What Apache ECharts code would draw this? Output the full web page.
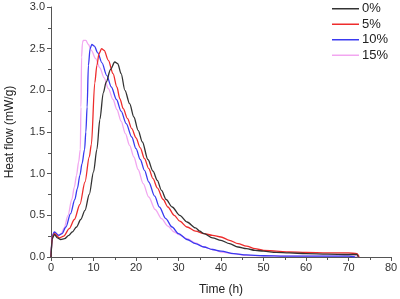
<!DOCTYPE html>
<html>
<head>
<meta charset="utf-8">
<script src="https://cdn.jsdelivr.net/npm/echarts@6/dist/echarts.min.js"></script>
<style>
  html, body { margin: 0; padding: 0; background: #fff; }
  #chart { width: 400px; height: 299px; }
</style>
</head>
<body>
<div id="chart"></div>
<script>
// series names
var names = ['0%', '5%', '10%', '15%'];

// 0%
var t0 = [0, 0.3, 0.8, 1.5, 2.3, 3.2, 4.2, 5, 6, 7, 8, 9, 10, 10.8, 11.5, 12.3, 13, 14, 15, 15.7, 16.5, 17.4, 18.5, 19.5, 20.5, 21.5, 22.8, 24, 25, 26, 27.1, 28.5, 30.3, 32, 34, 35, 36, 38, 40, 42, 44, 46, 48, 50, 53, 56, 60, 65, 70, 72, 72.3];
var v0 = [0, 0.22, 0.27, 0.23, 0.21, 0.22, 0.26, 0.3, 0.36, 0.45, 0.56, 0.75, 1.02, 1.29, 1.65, 1.97, 2.1, 2.25, 2.34, 2.32, 2.2, 2.0, 1.84, 1.68, 1.52, 1.38, 1.17, 1.03, 0.92, 0.8, 0.69, 0.6, 0.5, 0.42, 0.35, 0.31, 0.28, 0.23, 0.2, 0.16, 0.12, 0.1, 0.08, 0.07, 0.055, 0.05, 0.04, 0.035, 0.03, 0.03, 0];

// 5%
var t5 = [0, 0.3, 0.8, 2, 3, 4.3, 5.5, 6.8, 8, 9, 9.5, 10.3, 10.8, 11.3, 11.9, 12.5, 13.5, 14.6, 15.5, 16.2, 17, 18, 19, 20, 21, 22, 23, 24, 25, 26.4, 27.5, 29, 30.3, 32, 34, 36, 38, 40, 42, 44, 46, 48, 50, 53, 56, 60, 65, 70, 72, 72.5];
var v5 = [0, 0.24, 0.28, 0.23, 0.25, 0.34, 0.45, 0.63, 0.9, 1.2, 1.35, 2.09, 2.3, 2.44, 2.5, 2.48, 2.36, 2.2, 2.04, 1.9, 1.78, 1.66, 1.54, 1.43, 1.31, 1.18, 1.06, 0.94, 0.83, 0.69, 0.6, 0.5, 0.43, 0.36, 0.31, 0.28, 0.26, 0.24, 0.2, 0.16, 0.13, 0.1, 0.08, 0.07, 0.06, 0.055, 0.05, 0.05, 0.04, 0];

// 10%
var t10 = [0, 0.3, 0.8, 1.8, 2.6, 3.5, 4.6, 5.6, 6.2, 6.8, 7.3, 7.9, 8.2, 8.5, 8.8, 9.2, 9.6, 10.2, 11, 12, 13.1, 14.2, 15.4, 16.5, 17.7, 19, 20, 21, 22, 23, 24.4, 25.5, 27, 28.5, 30, 32, 34, 36, 38, 40, 43, 46, 50, 55, 60, 65, 70, 71.5];
var v10 = [0, 0.26, 0.3, 0.26, 0.28, 0.36, 0.52, 0.69, 0.82, 0.98, 1.12, 1.29, 1.5, 1.8, 2.3, 2.5, 2.55, 2.53, 2.45, 2.33, 2.18, 2.04, 1.89, 1.75, 1.6, 1.44, 1.3, 1.17, 1.04, 0.9, 0.73, 0.6, 0.46, 0.36, 0.28, 0.21, 0.16, 0.12, 0.09, 0.07, 0.04, 0.025, 0.015, 0.01, 0.01, 0.01, 0.01, 0];

// 15%
var t15 = [0, 0.3, 0.8, 1.7, 2.4, 3.1, 4, 4.9, 5.5, 6, 6.5, 6.9, 7.05, 7.2, 7.4, 7.6, 8.2, 8.8, 9.5, 10.5, 11.5, 12.5, 13.5, 14.6, 15.5, 16.5, 17.5, 18.5, 19.5, 20.5, 21.7, 23, 24.5, 26, 27.5, 29, 30.5, 32, 34, 36, 38, 40, 43, 46, 50, 55, 60, 65, 70, 72, 72.3];
var v15 = [0, 0.25, 0.3, 0.26, 0.28, 0.35, 0.5, 0.69, 0.84, 0.98, 1.14, 1.29, 1.8, 2.4, 2.57, 2.6, 2.6, 2.55, 2.48, 2.38, 2.27, 2.15, 2.02, 1.89, 1.77, 1.63, 1.48, 1.34, 1.2, 1.05, 0.88, 0.72, 0.57, 0.46, 0.37, 0.3, 0.26, 0.22, 0.17, 0.12, 0.09, 0.06, 0.04, 0.02, 0.015, 0.01, 0.01, 0.01, 0.01, 0.01, 0];

var colors = ['#333333', '#ee2c2c', '#3a3af0', '#f2a6f0'];

function zip(ts, vs) {
  var out = [];
  for (var i = 0; i < ts.length; i++) out.push([ts[i], vs[i]]);
  return out;
}
var allT = [t0, t5, t10, t15];
var allV = [v0, v5, v10, v15];

var axisCol = '#555';
var chart = echarts.init(document.getElementById('chart'));
var option = {
  animation: false,
  grid: { left: 51, right: 9, top: 7, bottom: 42, outerBoundsMode: 'none' },
  legend: {
    left: 327,
    top: -3,
    orient: 'vertical',
    icon: 'rect',
    itemWidth: 27,
    itemHeight: 1.5,
    itemGap: 2,
    textStyle: { fontFamily: 'Liberation Sans', fontSize: 13, color: '#222', lineHeight: 13.5, padding: [0, 0, 0, -2] },
    data: names
  },
  xAxis: {
    type: 'value',
    min: 0, max: 80, interval: 10,
    name: 'Time (h)',
    nameLocation: 'middle',
    nameGap: 27,
    nameTextStyle: { fontFamily: 'Liberation Sans', fontSize: 12, color: '#222' },
    splitLine: { show: false },
    axisLine: { lineStyle: { color: axisCol, width: 1 } },
    axisTick: { length: 4, lineStyle: { color: axisCol } },
    minorTick: { show: true, splitNumber: 2, length: 3, lineStyle: { color: axisCol } },
    axisLabel: { fontFamily: 'Liberation Sans', fontSize: 11, color: '#333', margin: 5 }
  },
  yAxis: {
    type: 'value',
    min: 0, max: 3, interval: 0.5,
    name: 'Heat flow (mW/g)',
    nameLocation: 'middle',
    nameGap: 35,
    nameTextStyle: { fontFamily: 'Liberation Sans', fontSize: 12, color: '#222' },
    splitLine: { show: false },
    axisLine: { show: true, lineStyle: { color: axisCol, width: 1 } },
    axisTick: { show: true, length: 4, lineStyle: { color: axisCol } },
    minorTick: { show: true, splitNumber: 2, length: 3, lineStyle: { color: axisCol } },
    axisLabel: {
      fontFamily: 'Liberation Sans', fontSize: 11, color: '#333', margin: 6,
      formatter: function (v) { return v.toFixed(1); }
    }
  },
  series: names.map(function (n, i) {
    return {
      name: n,
      type: 'line',
      symbol: 'none',
      smooth: 0.3,
      smoothMonotone: 'x',
      data: zip(allT[i], allV[i]),
      lineStyle: { color: colors[i], width: 1.3 },
      itemStyle: { color: colors[i] },
      z: 4 - i
    };
  })
};
chart.setOption(option);
</script>
</body>
</html>
